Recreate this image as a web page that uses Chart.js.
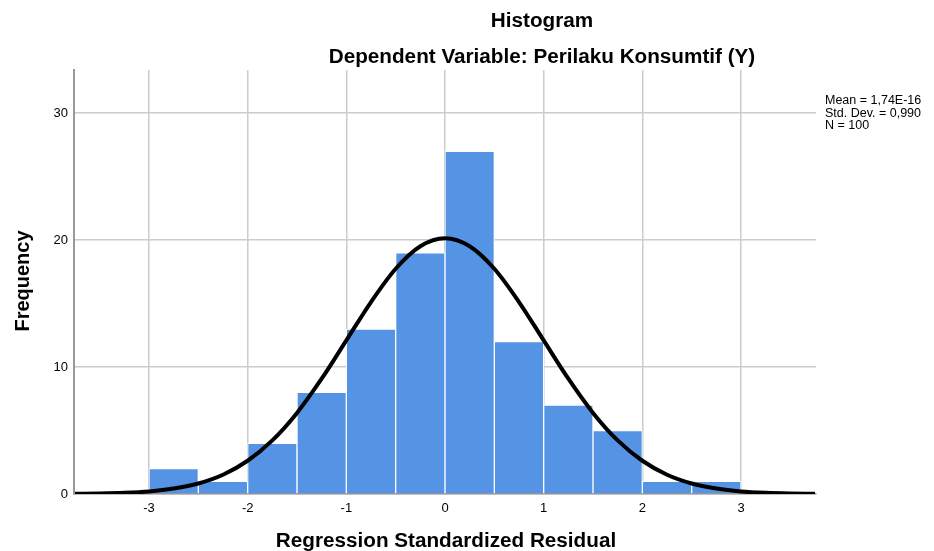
<!DOCTYPE html>
<html>
<head>
<meta charset="utf-8">
<script src="https://cdn.jsdelivr.net/npm/chart.js@4.4.1/dist/chart.umd.min.js"></script>
<style>
  html, body { margin: 0; padding: 0; background: #fff; }
  #wrap { width: 934px; height: 551px; position: relative; }
</style>
</head>
<body>
<div id="wrap"><canvas id="histChart"></canvas></div>
<script>
// Histogram bins (centres, width 0.5) and counts
const binCenters = [-2.75, -2.25, -1.75, -1.25, -0.75, -0.25, 0.25, 0.75, 1.25, 1.75, 2.25, 2.75];
const binCounts = [2, 1, 4, 8, 13, 19, 27, 12, 7, 5, 1, 1];

// Normal curve
const curveX = [-3.75, -3.5, -3.25, -3, -2.75, -2.5, -2.25, -2, -1.75, -1.5, -1.25, -1, -0.75, -0.5, -0.25, 0,
                0.25, 0.5, 0.75, 1, 1.25, 1.5, 1.75, 2, 2.25, 2.5, 2.75, 3, 3.25, 3.5, 3.75];
const curveY = [0.02, 0.04, 0.09, 0.2, 0.43, 0.83, 1.52, 2.62, 4.22, 6.39, 9.08, 12.1, 15.12, 17.74, 19.52, 20.15,
                19.52, 17.74, 15.12, 12.1, 9.08, 6.39, 4.22, 2.62, 1.52, 0.83, 0.43, 0.2, 0.09, 0.04, 0.02];

// Axis ticks
const xTicks = [-3, -2, -1, 0, 1, 2, 3];
const yTicks = [0, 10, 20, 30];

const statsLines = ['Mean = 1,74E-16', 'Std. Dev. = 0,990', 'N = 100'];

const FONT = 'Arial, "Liberation Sans", sans-serif';

// draws titles, axis titles and the stats box
const textPlugin = {
    id: 'textPlugin',
    afterDraw(chart) {
        const ctx = chart.ctx;
        ctx.save();
        ctx.fillStyle = '#000';
        ctx.textAlign = 'center';
        ctx.textBaseline = 'middle';
        ctx.font = 'bold 20.7px ' + FONT;
        ctx.fillText('Histogram', 542, 21);
        ctx.fillText('Dependent Variable: Perilaku Konsumtif (Y)', 542, 57);
        ctx.fillText('Regression Standardized Residual', 446, 541);

        ctx.save();
        ctx.translate(23, 281);
        ctx.rotate(-Math.PI / 2);
        ctx.font = 'bold 20px ' + FONT;
        ctx.fillText('Frequency', 0, 0);
        ctx.restore();

        ctx.textAlign = 'left';
        ctx.font = '12.5px ' + FONT;
        statsLines.forEach((line, i) => {
            ctx.fillText(line, 825, 101 + i * 12.5);
        });
        ctx.restore();
    }
};

const ctx = document.getElementById('histChart').getContext('2d');
new Chart(ctx, {
    data: {
        datasets: [
            {
                type: 'line',
                data: curveX.map((x, i) => ({ x: x, y: curveY[i] })),
                borderColor: '#000',
                borderWidth: 4,
                pointRadius: 0,
                cubicInterpolationMode: 'monotone',
                fill: false,
                order: 0
            },
            {
                type: 'bar',
                data: binCenters.map((x, i) => ({ x: x, y: binCounts[i] })),
                backgroundColor: '#5594e5',
                borderColor: '#ffffff',
                borderWidth: 1,
                borderSkipped: 'bottom',
                barPercentage: 1,
                categoryPercentage: 1,
                order: 1
            }
        ]
    },
    options: {
        responsive: true,
        maintainAspectRatio: false,
        animation: false,
        layout: { padding: { top: 70, right: 118, left: 0, bottom: 0 } },
        plugins: {
            legend: { display: false },
            tooltip: { enabled: false }
        },
        scales: {
            x: {
                type: 'linear',
                min: -3.76,
                max: 3.76,
                offset: false,
                afterBuildTicks: scale => { scale.ticks = xTicks.map(v => ({ value: v })); },
                afterFit: scale => { scale.height = 57; },
                ticks: {
                    color: '#000',
                    font: { size: 13, family: FONT },
                    padding: 7,
                    callback: v => String(v)
                },
                grid: { color: '#cccccc', lineWidth: 1.5, drawTicks: false, offset: false },
                border: { color: '#999999', width: 1.5 }
            },
            y: {
                min: 0,
                max: 33.4,
                afterBuildTicks: scale => { scale.ticks = yTicks.map(v => ({ value: v })); },
                afterFit: scale => { scale.width = 74; },
                ticks: {
                    color: '#000',
                    font: { size: 13, family: FONT },
                    padding: 6
                },
                grid: { color: '#cccccc', lineWidth: 1.5, drawTicks: false },
                border: { color: '#999999', width: 2 }
            }
        }
    },
    plugins: [textPlugin]
});
</script>
</body>
</html>
